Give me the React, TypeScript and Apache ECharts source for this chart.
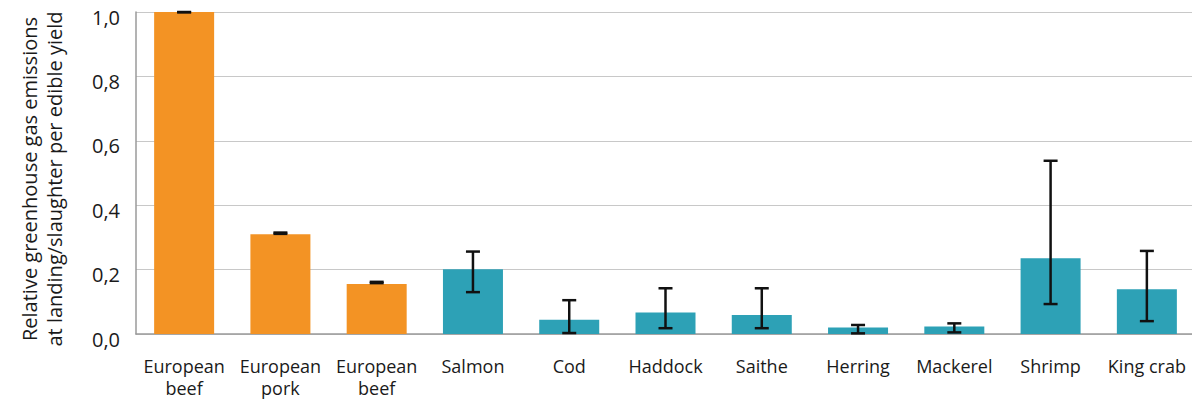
import React, { useEffect, useRef } from "react";
import * as echarts from "echarts";

const categories = [
  "European\nbeef", "European\npork", "European\nbeef", "Salmon", "Cod", "Haddock",
  "Saithe", "Herring", "Mackerel", "Shrimp", "King crab",
];
const values = [1.0, 0.31, 0.155, 0.201, 0.044, 0.067, 0.059, 0.02, 0.023, 0.235, 0.139];
const errLow = [0.999, 0.311, 0.158, 0.130, 0.003, 0.018, 0.018, 0.002, 0.005, 0.093, 0.040];
const errHigh = [1.0, 0.315, 0.162, 0.256, 0.105, 0.142, 0.142, 0.028, 0.033, 0.538, 0.258];
const groups = ["meat", "meat", "meat", "fish", "fish", "fish", "fish", "fish", "fish", "fish", "fish"];
const yTicks = [0, 0.2, 0.4, 0.6, 0.8, 1.0];

const ORANGE = "#F39324";
const TEAL = "#2DA1B6";

export default function App() {
  const ref = useRef<HTMLDivElement>(null);
  useEffect(() => {
    const chart = echarts.init(ref.current!, null, { renderer: "svg" });
    const font = "'Open Sans', 'Noto Sans', sans-serif";
    chart.setOption({
      animation: false,
      grid: { left: 136, right: 5, top: 12, bottom: 75, containLabel: false, outerBoundsMode: "none" },
      xAxis: {
        type: "category",
        data: categories,
        axisLine: { show: true, lineStyle: { color: "#9a9a9a", width: 1.5 } },
        axisTick: { show: false },
        axisLabel: {
          color: "#1a1a1a",
          fontFamily: font,
          fontSize: 18,
          lineHeight: 22,
          margin: 21,
          interval: 0,
        },
      },
      yAxis: {
        type: "value",
        min: 0,
        max: 1,
        interval: 0.2,
        name: "Relative greenhouse gas emissions\nat landing/slaughter per edible yield",
        nameLocation: "middle",
        nameGap: 69,
        nameTextStyle: {
          color: "#1a1a1a",
          fontFamily: font,
          fontSize: 20,
          lineHeight: 25,
          padding: [0, 12, 0, 0],
        },
        axisLine: { show: true, lineStyle: { color: "#9a9a9a", width: 1.5 } },
        axisTick: { show: false },
        splitLine: { lineStyle: { color: "#c8c8c8", width: 1.2 } },
        axisLabel: {
          color: "#1a1a1a",
          fontFamily: font,
          fontSize: 20,
          margin: 16,
          verticalAlign: "top",
          lineHeight: 10,
          formatter: (v: number) => {
            const t = yTicks.find((x) => Math.abs(x - v) < 1e-9);
            return (t !== undefined ? t : v).toFixed(1).replace(".", ",");
          },
        },
      },
      series: [
        {
          type: "bar",
          barWidth: 60,
          data: values.map((v, i) => ({
            value: v,
            itemStyle: { color: groups[i] === "meat" ? ORANGE : TEAL },
          })),
          z: 2,
        },
        {
          type: "custom",
          z: 3,
          data: values.map((_, i) => [i, errLow[i], errHigh[i]]),
          renderItem: (params: any, api: any) => {
            const idx = api.value(0);
            const lo = api.coord([idx, api.value(1)]);
            const hi = api.coord([idx, api.value(2)]);
            const half = 7;
            const style = { stroke: "#111", lineWidth: 2.5, fill: "none" };
            return {
              type: "group",
              children: [
                { type: "line", shape: { x1: hi[0], y1: hi[1], x2: lo[0], y2: lo[1] }, style },
                { type: "line", shape: { x1: hi[0] - half, y1: hi[1], x2: hi[0] + half, y2: hi[1] }, style },
                { type: "line", shape: { x1: lo[0] - half, y1: lo[1], x2: lo[0] + half, y2: lo[1] }, style },
              ],
            };
          },
        },
      ],
    });
    return () => chart.dispose();
  }, []);
  return <div ref={ref} style={{ width: 1200, height: 409, margin: -8 }} />;
}
